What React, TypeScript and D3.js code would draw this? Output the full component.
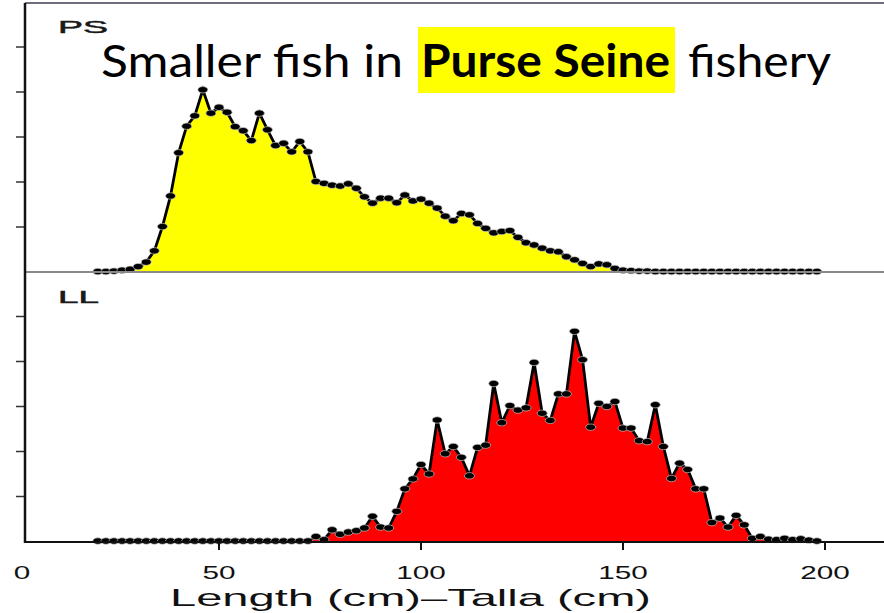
import React, { useEffect, useRef } from 'react';
import * as d3 from 'd3';

// fork length classes (cm), 2 cm bins
const lengths = [
  20, 22, 24, 26, 28, 30, 32, 34, 36, 38, 40, 42, 44, 46, 48, 50, 52, 54, 56, 58,
  60, 62, 64, 66, 68, 70, 72, 74, 76, 78, 80, 82, 84, 86, 88, 90, 92, 94, 96, 98,
  100, 102, 104, 106, 108, 110, 112, 114, 116, 118, 120, 122, 124, 126, 128, 130, 132, 134, 136, 138,
  140, 142, 144, 146, 148, 150, 152, 154, 156, 158, 160, 162, 164, 166, 168, 170, 172, 174, 176, 178,
  180, 182, 184, 186, 188, 190, 192, 194, 196, 198
];

// purse seine frequencies
const psValues = [
  0.01, 0.01, 0.02, 0.04, 0.06, 0.12, 0.22, 0.47, 1.01, 1.69, 2.65, 3.24, 3.47, 4.05, 3.53, 3.66, 3.55, 3.23, 3.14, 2.92,
  3.53, 3.16, 2.81, 2.86, 2.67, 2.90, 2.67, 2.01, 1.97, 1.93, 1.91, 1.96, 1.86, 1.67, 1.53, 1.64, 1.64, 1.54, 1.71, 1.58,
  1.62, 1.53, 1.42, 1.24, 1.14, 1.30, 1.27, 1.08, 0.97, 0.87, 0.90, 0.92, 0.77, 0.65, 0.60, 0.53, 0.47, 0.45, 0.34, 0.27,
  0.19, 0.12, 0.18, 0.16, 0.08, 0.04, 0.03, 0.02, 0.02, 0.01, 0.01, 0.01, 0.01, 0.01, 0.01, 0.01, 0.01, 0.01, 0.01, 0.01,
  0.01, 0.01, 0.01, 0.01, 0.01, 0.01, 0.01, 0.01, 0.01, 0.01
];

// longline frequencies
const llValues = [
  0.01, 0.01, 0.01, 0.01, 0.01, 0.01, 0.01, 0.01, 0.01, 0.01, 0.01, 0.01, 0.01, 0.01, 0.01, 0.01, 0.01, 0.01, 0.01, 0.01,
  0.01, 0.01, 0.01, 0.01, 0.01, 0.01, 0.01, 0.11, 0.04, 0.26, 0.16, 0.21, 0.24, 0.30, 0.56, 0.32, 0.30, 0.67, 1.17, 1.39,
  1.71, 1.50, 2.70, 1.95, 2.11, 1.87, 1.46, 2.09, 2.14, 3.51, 2.64, 3.02, 2.92, 2.97, 3.98, 2.85, 2.69, 3.28, 3.28, 4.67,
  4.04, 2.54, 3.07, 3.00, 3.11, 2.52, 2.52, 2.24, 2.22, 3.04, 2.11, 1.40, 1.74, 1.60, 1.17, 1.17, 0.42, 0.52, 0.32, 0.58,
  0.37, 0.07, 0.11, 0.05, 0.04, 0.07, 0.04, 0.06, 0.03, 0.01
];

const xTicks = [0, 50, 100, 150, 200];
const yTicks = [1, 2, 3, 4, 5];

const W = 884;
const H = 613;
const LEFT = 25;

const App = () => {
  const ref = useRef<SVGSVGElement>(null);

  useEffect(() => {
    const svg = d3.select(ref.current);
    svg.selectAll('*').remove();

    const x = d3.scaleLinear().domain([0, 200]).range([17, 825]);
    const yTop = d3.scaleLinear().domain([0, 6]).range([272, 2]);
    const yBot = d3.scaleLinear().domain([0, 6]).range([541.5, 271.5]);

    const panels = [
      { label: 'PS', values: psValues, y: yTop, fill: '#ffff00' },
      { label: 'LL', values: llValues, y: yBot, fill: '#ff0000' }
    ];

    panels.forEach((p) => {
      const pts: [number, number][] = lengths.map((l, i) => [l, p.values[i]]);
      const g = svg.append('g');

      const area = d3.area<[number, number]>()
        .x((d) => x(d[0]))
        .y0(p.y(0))
        .y1((d) => p.y(d[1]));
      const line = d3.line<[number, number]>()
        .x((d) => x(d[0]))
        .y((d) => p.y(d[1]));

      g.append('path').attr('d', area(pts)).attr('fill', p.fill);
      g.append('path').attr('d', line(pts))
        .attr('fill', 'none').attr('stroke', '#000').attr('stroke-width', 2.8);
      g.selectAll('ellipse')
        .data(pts)
        .enter()
        .append('ellipse')
        .attr('cx', (d) => x(d[0]))
        .attr('cy', (d) => p.y(d[1]))
        .attr('rx', 5)
        .attr('ry', 3.2)
        .attr('fill', '#000')
        .attr('stroke', '#c8c8c8')
        .attr('stroke-width', 0.7);

      // y ticks, no labels
      g.selectAll('.ytick')
        .data(yTicks)
        .enter()
        .append('line')
        .attr('x1', 16)
        .attr('x2', LEFT)
        .attr('y1', (d) => p.y(d))
        .attr('y2', (d) => p.y(d))
        .attr('stroke', '#333')
        .attr('stroke-width', 1.5);

      g.append('text')
        .attr('x', 58)
        .attr('y', p.y(6) + 31)
        .attr('font-family', 'Liberation Sans, Arial, sans-serif')
        .attr('font-size', 17)
        .attr('stroke', '#1a1a1a')
        .attr('stroke-width', 0.5)
        .attr('textLength', p.label === 'PS' ? 50 : 41)
        .attr('lengthAdjust', 'spacingAndGlyphs')
        .attr('fill', '#1a1a1a')
        .text(p.label);
    });

    // frame
    svg.append('line').attr('x1', LEFT).attr('x2', W).attr('y1', 3).attr('y2', 3)
      .attr('stroke', '#3c3c50').attr('stroke-width', 1.5);
    svg.append('line').attr('x1', LEFT).attr('x2', W).attr('y1', 272).attr('y2', 272)
      .attr('stroke', '#8a8a8a').attr('stroke-width', 2);
    svg.append('line').attr('x1', LEFT).attr('x2', W).attr('y1', 542).attr('y2', 542)
      .attr('stroke', '#111').attr('stroke-width', 2);
    svg.append('line').attr('x1', LEFT).attr('x2', LEFT).attr('y1', 3).attr('y2', 543)
      .attr('stroke', '#111').attr('stroke-width', 2.5);

    // x axis
    const xa = svg.append('g');
    xa.selectAll('.xtick')
      .data(xTicks.filter((d) => d > 0))
      .enter()
      .append('line')
      .attr('x1', (d) => x(d))
      .attr('x2', (d) => x(d))
      .attr('y1', 542)
      .attr('y2', 550)
      .attr('stroke', '#111')
      .attr('stroke-width', 2);
    xa.selectAll('.xlab')
      .data(xTicks)
      .enter()
      .append('text')
      .attr('x', (d) => x(d) + (d === 0 ? 5 : 0))
      .attr('y', 579)
      .attr('text-anchor', 'middle')
      .attr('font-family', 'Liberation Sans, Arial, sans-serif')
      .attr('font-size', 19)
      .attr('textLength', (d) => String(d).length * 16.5)
      .attr('lengthAdjust', 'spacingAndGlyphs')
      .attr('fill', '#111')
      .text((d) => d);

    svg.append('text')
      .attr('x', 170)
      .attr('y', 606)
      .attr('font-family', 'Liberation Sans, Arial, sans-serif')
      .attr('font-size', 24)
      .attr('textLength', 481)
      .attr('lengthAdjust', 'spacingAndGlyphs')
      .attr('fill', '#111')
      .text('Length (cm)\u2013Talla (cm)');

    // slide title
    svg.append('rect')
      .attr('x', 418).attr('y', 27).attr('width', 257).attr('height', 66)
      .attr('fill', '#ffff00');
    const title = [
      { t: 'Smaller fish in', x0: 101, len: 302, bold: false },
      { t: 'Purse Seine', x0: 421, len: 249, bold: true },
      { t: 'fishery', x0: 688, len: 143, bold: false }
    ];
    svg.selectAll('.title')
      .data(title)
      .enter()
      .append('text')
      .attr('x', (d) => d.x0)
      .attr('y', 77)
      .attr('font-family', 'Lato, Open Sans, sans-serif')
      .attr('font-size', 45)
      .attr('font-weight', (d) => (d.bold ? 700 : 400))
      .attr('textLength', (d) => d.len)
      .attr('lengthAdjust', 'spacingAndGlyphs')
      .attr('fill', '#000')
      .text((d) => d.t);
  }, []);

  return (
    <div style={{ position: 'absolute', left: 0, top: 0, width: W, height: H, background: '#fff' }}>
      <svg ref={ref} width={W} height={H} style={{ display: 'block' }} />
    </div>
  );
};

export default App;
